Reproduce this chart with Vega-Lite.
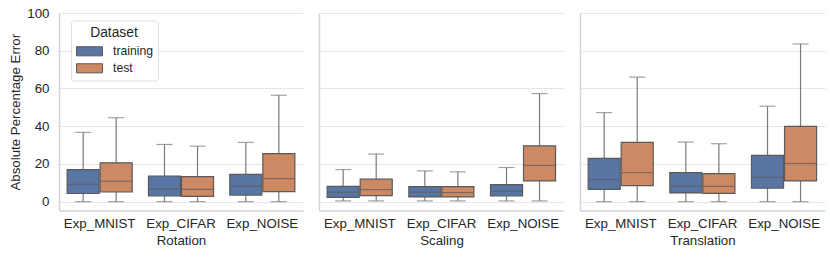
{
  "$schema": "https://vega.github.io/schema/vega-lite/v6.json",
  "padding": {"left": 8, "top": 6, "right": 5, "bottom": 5},
  "background": "white",
  "config": {
    "font": "Liberation Sans",
    "view": {"stroke": null},
    "axis": {
      "labelFont": "Liberation Sans", "titleFont": "Liberation Sans",
      "labelFontSize": 13.3, "titleFontSize": 13.3, "titleFontWeight": "normal",
      "labelColor": "#262626", "titleColor": "#262626",
      "domainColor": "#d4d4d4", "domainWidth": 1.5,
      "gridColor": "#e6e6e6", "gridWidth": 1.2,
      "ticks": false, "labelOverlap": false
    },
    "axisX": {"labelPadding": 6, "titlePadding": 4, "grid": false, "labelAngle": 0},
    "axisY": {"labelPadding": 10, "titlePadding": 4},
    "legend": {
      "labelFont": "Liberation Sans", "titleFont": "Liberation Sans"
    },
    "concat": {"spacing": 16}
  },
  "data": {
    "values": [
      {"transform": "Rotation", "exp": "Exp_MNIST", "dataset": "training", "lower": 0, "q1": 4.3, "median": 9.2, "q3": 17.0, "upper": 36.7},
      {"transform": "Rotation", "exp": "Exp_MNIST", "dataset": "test", "lower": 0, "q1": 5.1, "median": 10.8, "q3": 20.6, "upper": 44.5},
      {"transform": "Rotation", "exp": "Exp_CIFAR", "dataset": "training", "lower": 0, "q1": 3.0, "median": 6.7, "q3": 13.6, "upper": 30.3},
      {"transform": "Rotation", "exp": "Exp_CIFAR", "dataset": "test", "lower": 0, "q1": 2.8, "median": 6.5, "q3": 13.3, "upper": 29.4},
      {"transform": "Rotation", "exp": "Exp_NOISE", "dataset": "training", "lower": 0, "q1": 3.5, "median": 8.1, "q3": 14.5, "upper": 31.4},
      {"transform": "Rotation", "exp": "Exp_NOISE", "dataset": "test", "lower": 0, "q1": 5.3, "median": 12.2, "q3": 25.5, "upper": 56.4},
      {"transform": "Scaling", "exp": "Exp_MNIST", "dataset": "training", "lower": 0.4, "q1": 2.3, "median": 5.0, "q3": 8.1, "upper": 17.0},
      {"transform": "Scaling", "exp": "Exp_MNIST", "dataset": "test", "lower": 0.4, "q1": 3.2, "median": 6.4, "q3": 11.9, "upper": 25.2},
      {"transform": "Scaling", "exp": "Exp_CIFAR", "dataset": "training", "lower": 0.4, "q1": 2.5, "median": 5.0, "q3": 8.0, "upper": 16.3},
      {"transform": "Scaling", "exp": "Exp_CIFAR", "dataset": "test", "lower": 0.4, "q1": 2.5, "median": 4.8, "q3": 8.0, "upper": 15.8},
      {"transform": "Scaling", "exp": "Exp_NOISE", "dataset": "training", "lower": 0.4, "q1": 3.0, "median": 5.5, "q3": 9.0, "upper": 18.1},
      {"transform": "Scaling", "exp": "Exp_NOISE", "dataset": "test", "lower": 0.4, "q1": 11.0, "median": 19.2, "q3": 29.6, "upper": 57.3},
      {"transform": "Translation", "exp": "Exp_MNIST", "dataset": "training", "lower": 0, "q1": 6.5, "median": 11.7, "q3": 22.9, "upper": 47.2},
      {"transform": "Translation", "exp": "Exp_MNIST", "dataset": "test", "lower": 0, "q1": 8.5, "median": 15.4, "q3": 31.4, "upper": 66.0},
      {"transform": "Translation", "exp": "Exp_CIFAR", "dataset": "training", "lower": 0, "q1": 4.6, "median": 8.1, "q3": 15.4, "upper": 31.6},
      {"transform": "Translation", "exp": "Exp_CIFAR", "dataset": "test", "lower": 0, "q1": 4.4, "median": 8.1, "q3": 14.9, "upper": 30.7},
      {"transform": "Translation", "exp": "Exp_NOISE", "dataset": "training", "lower": 0, "q1": 7.1, "median": 12.9, "q3": 24.5, "upper": 50.6},
      {"transform": "Translation", "exp": "Exp_NOISE", "dataset": "test", "lower": 0, "q1": 11.0, "median": 20.2, "q3": 39.9, "upper": 83.6}
    ]
  },
  "resolve": {"scale": {"color": "shared", "y": "shared"}, "legend": {"color": "shared"}},
  "hconcat": [
    {
      "width": 244, "height": 197.5,
      "transform": [{"filter": "datum.transform === 'Rotation'"}],
      "encoding": {
        "x": {"field": "exp", "type": "nominal", "sort": ["Exp_MNIST", "Exp_CIFAR", "Exp_NOISE"], "title": "Rotation",
              "scale": {"paddingInner": 0.2, "paddingOuter": 0.1}},
        "xOffset": {"field": "dataset", "type": "nominal", "sort": ["training", "test"], "scale": {"paddingInner": 0.03}},
        "y": {"field": "lower", "type": "quantitative", "title": "Absolute Percentage Error",
              "scale": {"domain": [-4.7, 100], "nice": false, "zero": false},
              "axis": {"values": [0, 20, 40, 60, 80, 100]}}
      },
      "layer": [
        {"mark": {"type": "rule", "color": "#7a7a7a", "strokeWidth": 1.2},
         "encoding": {"y2": {"field": "upper"}}},
        {"mark": {"type": "tick", "color": "#7a7a7a", "size": 16, "thickness": 1.2}},
        {"mark": {"type": "tick", "color": "#7a7a7a", "size": 16, "thickness": 1.2}, "encoding": {"y": {"field": "upper", "type": "quantitative"}}},
        {"mark": {"type": "bar", "stroke": "#5a5a5a", "strokeWidth": 1.2},
         "encoding": {"y": {"field": "q1", "type": "quantitative"}, "y2": {"field": "q3"},
                      "color": {"field": "dataset", "type": "nominal", "title": "Dataset",
                                "scale": {"domain": ["training", "test"], "range": ["#5875a4", "#cc8963"]},
                                "legend": {"orient": "none", "legendX": 12, "legendY": 7.5,
                                           "symbolType": "M-2,-0.7H2V0.7H-2Z", "symbolSize": 169, "symbolOffset": 6.5,
                                           "symbolStrokeColor": "#5a5a5a", "symbolStrokeWidth": 1,
                                           "labelFontSize": 12.2, "titleFontSize": 13.8, "titleFontWeight": "normal",
                                           "labelColor": "#262626", "titleColor": "#262626",
                                           "titleAnchor": "middle", "titleAlign": "center", "titlePadding": 5,
                                           "padding": 5, "rowPadding": 3, "labelOffset": 16.5,
                                           "strokeColor": "#dddddd", "fillColor": "white", "cornerRadius": 3}}}},
        {"mark": {"type": "tick", "color": "#5a5a5a", "size": 31, "thickness": 1.2}, "encoding": {"y": {"field": "median", "type": "quantitative"}}}
      ]
    },
    {
      "width": 245, "height": 197.5,
      "transform": [{"filter": "datum.transform === 'Scaling'"}],
      "encoding": {
        "x": {"field": "exp", "type": "nominal", "sort": ["Exp_MNIST", "Exp_CIFAR", "Exp_NOISE"], "title": "Scaling",
              "scale": {"paddingInner": 0.2, "paddingOuter": 0.1}},
        "xOffset": {"field": "dataset", "type": "nominal", "sort": ["training", "test"], "scale": {"paddingInner": 0.03}},
        "y": {"field": "lower", "type": "quantitative", "title": null,
              "scale": {"domain": [-4.7, 100], "nice": false, "zero": false},
              "axis": {"values": [0, 20, 40, 60, 80, 100], "labels": false}}
      },
      "layer": [
        {"mark": {"type": "rule", "color": "#7a7a7a", "strokeWidth": 1.2},
         "encoding": {"y2": {"field": "upper"}}},
        {"mark": {"type": "tick", "color": "#7a7a7a", "size": 16, "thickness": 1.2}},
        {"mark": {"type": "tick", "color": "#7a7a7a", "size": 16, "thickness": 1.2}, "encoding": {"y": {"field": "upper", "type": "quantitative"}}},
        {"mark": {"type": "bar", "stroke": "#5a5a5a", "strokeWidth": 1.2},
         "encoding": {"y": {"field": "q1", "type": "quantitative"}, "y2": {"field": "q3"},
                      "color": {"field": "dataset", "type": "nominal", "legend": null,
                                "scale": {"domain": ["training", "test"], "range": ["#5875a4", "#cc8963"]}}}},
        {"mark": {"type": "tick", "color": "#5a5a5a", "size": 31, "thickness": 1.2}, "encoding": {"y": {"field": "median", "type": "quantitative"}}}
      ]
    },
    {
      "width": 245, "height": 197.5,
      "transform": [{"filter": "datum.transform === 'Translation'"}],
      "encoding": {
        "x": {"field": "exp", "type": "nominal", "sort": ["Exp_MNIST", "Exp_CIFAR", "Exp_NOISE"], "title": "Translation",
              "scale": {"paddingInner": 0.2, "paddingOuter": 0.1}},
        "xOffset": {"field": "dataset", "type": "nominal", "sort": ["training", "test"], "scale": {"paddingInner": 0.03}},
        "y": {"field": "lower", "type": "quantitative", "title": null,
              "scale": {"domain": [-4.7, 100], "nice": false, "zero": false},
              "axis": {"values": [0, 20, 40, 60, 80, 100], "labels": false}}
      },
      "layer": [
        {"mark": {"type": "rule", "color": "#7a7a7a", "strokeWidth": 1.2},
         "encoding": {"y2": {"field": "upper"}}},
        {"mark": {"type": "tick", "color": "#7a7a7a", "size": 16, "thickness": 1.2}},
        {"mark": {"type": "tick", "color": "#7a7a7a", "size": 16, "thickness": 1.2}, "encoding": {"y": {"field": "upper", "type": "quantitative"}}},
        {"mark": {"type": "bar", "stroke": "#5a5a5a", "strokeWidth": 1.2},
         "encoding": {"y": {"field": "q1", "type": "quantitative"}, "y2": {"field": "q3"},
                      "color": {"field": "dataset", "type": "nominal", "legend": null,
                                "scale": {"domain": ["training", "test"], "range": ["#5875a4", "#cc8963"]}}}},
        {"mark": {"type": "tick", "color": "#5a5a5a", "size": 31, "thickness": 1.2}, "encoding": {"y": {"field": "median", "type": "quantitative"}}}
      ]
    }
  ]
}
